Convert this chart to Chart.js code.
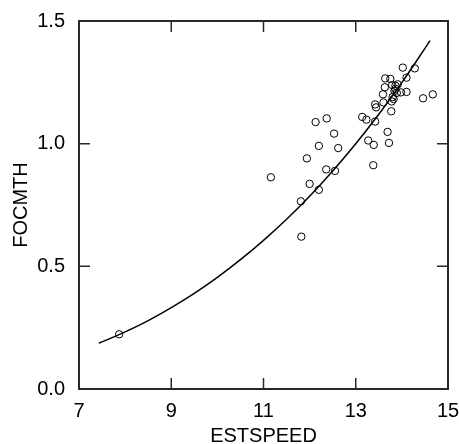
<!DOCTYPE html>
<html>
<head>
<meta charset="utf-8">
<script src="https://cdn.jsdelivr.net/npm/chart.js@4.4.1/dist/chart.umd.min.js"></script>
<style>
  html, body { margin: 0; padding: 0; background: #fff; }
  #wrap { width: 459px; height: 444px; }
</style>
</head>
<body>
<div id="wrap"><canvas id="chart" width="459" height="444"></canvas></div>
<script>
// observed points (ESTSPEED, FOCMTH)
const estSpeed = [7.87, 11.16, 11.81, 11.82, 11.94, 12.00, 12.13, 12.20, 12.20, 12.36, 12.37,
  12.53, 12.55, 12.62, 13.14, 13.23, 13.27, 13.38, 13.39, 13.42, 13.42, 13.44, 13.59, 13.60,
  13.63, 13.64, 13.69, 13.72, 13.75, 13.77, 13.78, 13.79, 13.80, 13.82, 13.84, 13.86, 13.86,
  13.89, 13.91, 13.98, 14.02, 14.10, 14.10, 14.28, 14.46, 14.67];
const focMth = [0.223, 0.863, 0.765, 0.621, 0.940, 0.836, 1.088, 0.991, 0.812, 0.895, 1.103,
  1.041, 0.889, 0.982, 1.109, 1.098, 1.013, 0.912, 0.995, 1.090, 1.160, 1.148, 1.201, 1.168,
  1.230, 1.266, 1.048, 1.003, 1.264, 1.132, 1.172, 1.239, 1.190, 1.182, 1.215, 1.223, 1.236,
  1.207, 1.242, 1.209, 1.310, 1.269, 1.211, 1.307, 1.185, 1.201];

// fitted curve
const fitX = [7.43, 7.5, 8, 8.5, 9, 9.5, 10, 10.5, 11, 11.5, 12, 12.5, 13, 13.5, 14, 14.3, 14.61];
const fitY = [0.187, 0.192, 0.233, 0.279, 0.332, 0.390, 0.455, 0.527, 0.606, 0.692, 0.786,
  0.889, 1.000, 1.120, 1.249, 1.332, 1.420];

const xTicks = [7, 9, 11, 13, 15];
const yTicks = [0.0, 0.5, 1.0, 1.5];

const frameColor = 'rgb(40, 40, 40)';
const tickLen = 11;

// box round the plot + inward tick marks on all four sides
const boxTicks = {
    id: 'boxTicks',
    afterDraw(chart) {
        const ctx = chart.ctx;
        const a = chart.chartArea;
        const sx = chart.scales.x;
        const sy = chart.scales.y;
        const l = Math.round(a.left), r = Math.round(a.right);
        const t = Math.round(a.top), b = Math.round(a.bottom);
        ctx.save();
        ctx.globalCompositeOperation = 'source-over';
        ctx.globalAlpha = 1;
        ctx.setLineDash([]);
        ctx.strokeStyle = frameColor;
        ctx.lineWidth = 2;
        ctx.lineCap = 'square';
        ctx.beginPath();
        ctx.moveTo(l, t); ctx.lineTo(r, t);
        ctx.moveTo(r, t); ctx.lineTo(r, b);
        ctx.moveTo(r, b); ctx.lineTo(l, b);
        ctx.moveTo(l, b); ctx.lineTo(l, t);
        ctx.stroke();

        ctx.lineWidth = 1.5;
        ctx.lineCap = 'butt';
        ctx.beginPath();
        xTicks.forEach(v => {
            const px = sx.getPixelForValue(v);
            ctx.moveTo(px, b); ctx.lineTo(px, b - tickLen);
            ctx.moveTo(px, t); ctx.lineTo(px, t + tickLen);
        });
        yTicks.forEach(v => {
            const py = sy.getPixelForValue(v);
            ctx.moveTo(l, py); ctx.lineTo(l + tickLen, py);
            ctx.moveTo(r, py); ctx.lineTo(r - tickLen, py);
        });
        ctx.stroke();
        ctx.restore();
    }
};

const font = { family: '"Liberation Sans", Arial, sans-serif', size: 20 };

new Chart(document.getElementById('chart'), {
    type: 'scatter',
    data: {
        datasets: [{
            type: 'line',
            data: fitX.map((x, i) => ({ x: x, y: fitY[i] })),
            borderColor: '#000',
            borderWidth: 1.5,
            pointRadius: 0,
            cubicInterpolationMode: 'monotone',
            fill: false
        }, {
            data: estSpeed.map((x, i) => ({ x: x, y: focMth[i] })),
            pointStyle: 'circle',
            pointRadius: 3.7,
            pointBorderWidth: 1,
            pointBorderColor: '#000',
            pointBackgroundColor: 'rgba(0,0,0,0)'
        }]
    },
    options: {
        responsive: false,
        animation: false,
        layout: { padding: { top: 21, right: 11, left: 0, bottom: 0 } },
        plugins: { legend: { display: false }, tooltip: { enabled: false } },
        scales: {
            x: {
                type: 'linear',
                min: 7, max: 15,
                grid: { display: false },
                border: { display: false },
                ticks: { stepSize: 2, color: '#000', font: font, padding: 2, maxRotation: 0 },
                title: { display: true, text: 'ESTSPEED', color: '#000', font: { ...font, lineHeight: 0.8 }, padding: 0 },
                afterFit: s => { s.height = 55; s.paddingRight = 0; }
            },
            y: {
                min: 0, max: 1.5,
                grid: { display: false },
                border: { display: false },
                ticks: { stepSize: 0.5, color: '#000', font: font, padding: 6,
                    callback: v => v.toFixed(1) },
                title: { display: true, text: 'FOCMTH', color: '#000', font: font, padding: { top: 9, bottom: 0 } },
                afterFit: s => { s.width = 79; }
            }
        }
    },
    plugins: [boxTicks]
});
</script>
</body>
</html>
